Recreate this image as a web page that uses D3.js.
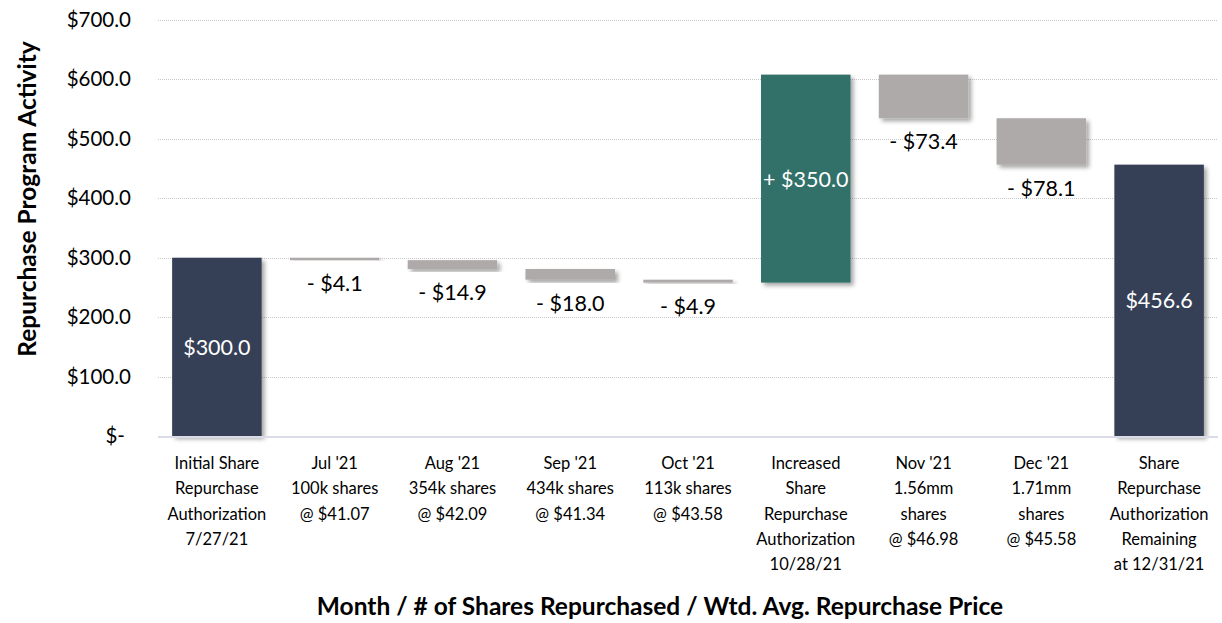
<!DOCTYPE html>
<html>
<head>
<meta charset="utf-8">
<script src="https://cdn.jsdelivr.net/npm/d3@7"></script>
<style>
  body { margin: 0; background: #fff; }
  text { font-family: Lato, "Open Sans", sans-serif; }
</style>
</head>
<body>
<script>
// waterfall data
var categories = [
    ["Initial Share", "Repurchase", "Authorization", "7/27/21"],
    ["Jul '21", "100k shares", "@ $41.07"],
    ["Aug '21", "354k shares", "@ $42.09"],
    ["Sep '21", "434k shares", "@ $41.34"],
    ["Oct '21", "113k shares", "@ $43.58"],
    ["Increased", "Share", "Repurchase", "Authorization", "10/28/21"],
    ["Nov '21", "1.56mm", "shares", "@ $46.98"],
    ["Dec '21", "1.71mm", "shares", "@ $45.58"],
    ["Share", "Repurchase", "Authorization", "Remaining", "at 12/31/21"]
];
var changes = [300.0, -4.1, -14.9, -18.0, -4.9, 350.0, -73.4, -78.1, 456.6];
var kinds = ["total", "dec", "dec", "dec", "dec", "inc", "dec", "dec", "total"];
var yTicks = [0, 100, 200, 300, 400, 500, 600, 700];

var width = 1222, height = 623;
var margin = { left: 158, right: 4, top: 20, bottom: 187 };

var svg = d3.select("body").append("svg").attr("width", width).attr("height", height);

var defs = svg.append("defs");
var f = defs.append("filter").attr("id", "shadow").attr("x", "-20%").attr("y", "-20%").attr("width", "150%").attr("height", "150%");
f.append("feDropShadow").attr("dx", 3).attr("dy", 3).attr("stdDeviation", 2)
    .attr("flood-color", "#000").attr("flood-opacity", 0.35);

var x = d3.scaleBand().domain(d3.range(categories.length))
    .range([margin.left, width - margin.right]).paddingInner(0.24).paddingOuter(0.12);
var y = d3.scaleLinear().domain([0, 700]).range([height - margin.bottom, margin.top]);

// compute waterfall segments
var running = 0;
var bars = changes.map(function (v, i) {
    var k = kinds[i], lo, hi;
    if (k === "total") { lo = 0; hi = v; running = v; }
    else if (k === "inc") { lo = running; hi = running + v; running = hi; }
    else { hi = running; lo = running + v; running = lo; }
    return { i: i, v: v, kind: k, lo: lo, hi: hi };
});

// grid
svg.append("g").selectAll("line").data(yTicks.filter(function (t) { return t > 0; })).enter().append("line")
    .attr("x1", margin.left).attr("x2", width - margin.right)
    .attr("y1", function (d) { return Math.round(y(d)) + 0.5; })
    .attr("y2", function (d) { return Math.round(y(d)) + 0.5; })
    .attr("stroke", "#c8c8c8").attr("stroke-width", 1).attr("stroke-dasharray", "1,1");

// y axis labels
var yAxis = d3.axisLeft(y).tickValues(yTicks).tickSize(0).tickPadding(0)
    .tickFormat(function (d) { return d === 0 ? "$-" : "$" + d.toFixed(1); });
var gy = svg.append("g").attr("transform", "translate(131,0)").call(yAxis);
gy.select(".domain").remove();
gy.selectAll("text").attr("font-size", 20.5).attr("fill", "#000")
    .attr("font-family", "Lato, sans-serif")
    .attr("dx", function (d) { return d === 0 ? -6 : 0; });

var colors = { total: "#353f56", inc: "#33706b", dec: "#aeaaa9" };

svg.append("g").selectAll("rect").data(bars).enter().append("rect")
    .attr("x", function (d) { return x(d.i); })
    .attr("width", x.bandwidth())
    .attr("y", function (d) { return y(d.hi); })
    .attr("height", function (d) { return Math.max(2, y(d.lo) - y(d.hi)); })
    .attr("fill", function (d) { return colors[d.kind]; })
    .attr("filter", "url(#shadow)");

// baseline
svg.append("line").attr("x1", margin.left).attr("x2", width - margin.right)
    .attr("y1", y(0) + 1).attr("y2", y(0) + 1).attr("stroke", "#d9dce8").attr("stroke-width", 2);

// value labels
svg.append("g").selectAll("text").data(bars).enter().append("text")
    .attr("x", function (d) { return x(d.i) + x.bandwidth() / 2; })
    .attr("y", function (d) {
        if (d.kind === "dec") return y(d.lo) + 31;
        return (y(d.lo) + y(d.hi)) / 2 + 8;
    })
    .attr("text-anchor", "middle").attr("font-size", 21.5)
    .attr("fill", function (d) { return d.kind === "dec" ? "#000" : "#fff"; })
    .text(function (d) {
        if (d.kind === "dec") return "- $" + Math.abs(d.v).toFixed(1);
        if (d.kind === "inc") return "+ $" + d.v.toFixed(1);
        return "$" + d.v.toFixed(1);
    });

// category labels
var cat = svg.append("g").selectAll("text").data(categories).enter().append("text")
    .attr("text-anchor", "middle").attr("font-size", 16.5).attr("fill", "#000");
cat.selectAll("tspan").data(function (d, i) { return d.map(function (s) { return { s: s, i: i }; }); })
    .enter().append("tspan")
    .attr("x", function (d) { return x(d.i) + x.bandwidth() / 2; })
    .attr("y", function (d, j) { return 469 + j * 25.3; })
    .text(function (d) { return d.s; });

// axis titles
svg.append("text").attr("x", (margin.left + width - margin.right) / 2 - 28).attr("y", 615)
    .attr("text-anchor", "middle").attr("font-size", 24.5).attr("font-weight", "bold")
    .text("Month / # of Shares Repurchased / Wtd. Avg. Repurchase Price");
svg.append("text").attr("transform", "translate(36," + ((margin.top + height - margin.bottom) / 2 - 29) + ") rotate(-90)")
    .attr("text-anchor", "middle").attr("font-size", 24.5).attr("font-weight", "bold")
    .text("Repurchase Program Activity");
</script>
</body>
</html>
